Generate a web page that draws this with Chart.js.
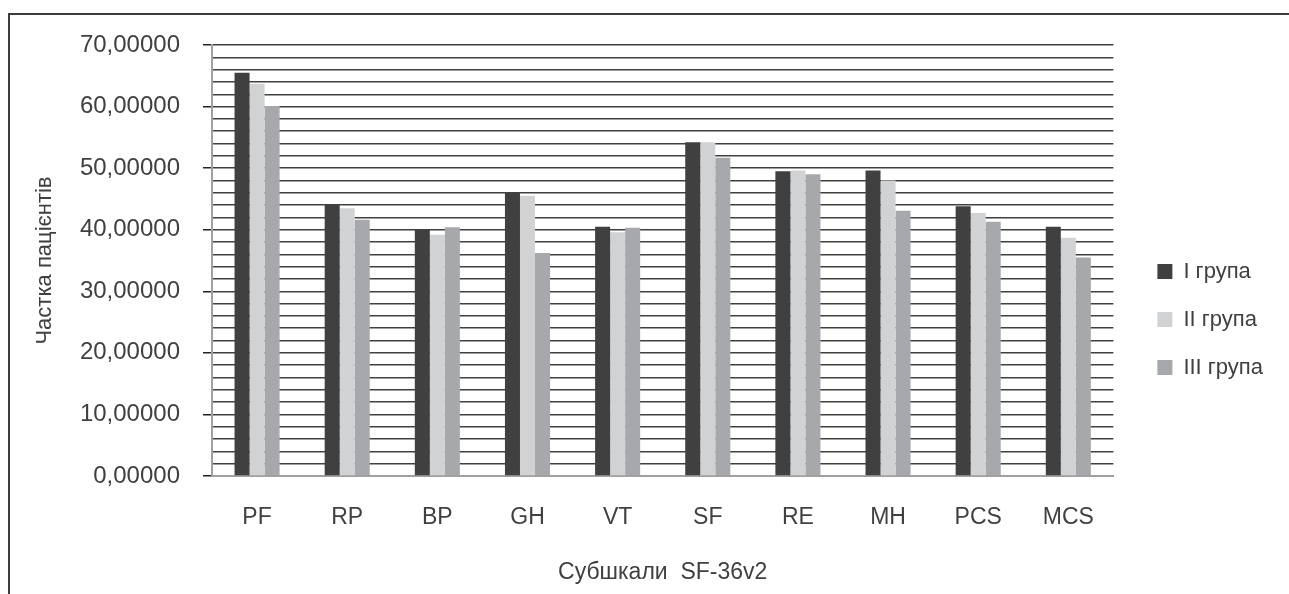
<!DOCTYPE html>
<html>
<head>
<meta charset="utf-8">
<script src="https://cdn.jsdelivr.net/npm/chart.js@4"></script>
<style>
  html, body { margin: 0; padding: 0; background: #fff; }
  #wrap { position: relative; width: 1289px; height: 594px; overflow: hidden; }
  #frame { position: absolute; left: 8px; top: 13px; width: 1400px; height: 700px;
           border-left: 2px solid #3c3c3c; border-top: 2px solid #3c3c3c; }
  #myChart { position: absolute; left: 0; top: 0; }
</style>
</head>
<body>
<div id="wrap">
  <div id="frame"></div>
  <canvas id="myChart" width="1289" height="594"></canvas>
</div>
<script>
var categories = ["PF", "RP", "BP", "GH", "VT", "SF", "RE", "MH", "PCS", "MCS"];
var seriesNames = ["I група", "II група", "III група"];
var group1 = [65.5, 44.0, 40.1, 46.1, 40.5, 54.2, 49.5, 49.6, 43.8, 40.5];
var group2 = [63.7, 43.5, 39.2, 45.5, 39.6, 54.2, 49.6, 48.0, 42.7, 38.7];
var group3 = [60.1, 41.6, 40.4, 36.2, 40.3, 51.7, 49.0, 43.1, 41.3, 35.5];
var yMin = 0, yMax = 70, yStep = 2, yLabelEvery = 10;

var textColor = "#404040";
var fontFamily = "'Liberation Sans', Arial, sans-serif";

var $chart = document.getElementById("myChart");

var chart = new Chart($chart, {
    type: "bar",
    data: {
        labels: categories,
        datasets: [
            { label: seriesNames[0], data: group1, backgroundColor: "#404040" },
            { label: seriesNames[1], data: group2, backgroundColor: "#d1d2d4" },
            { label: seriesNames[2], data: group3, backgroundColor: "#a7a8ab" },
        ],
    },
    options: {
        responsive: false,
        animation: false,
        categoryPercentage: 0.5,
        barPercentage: 1.0,
        layout: {
            padding: { top: 45, left: 0, right: 16, bottom: 0 },
        },
        plugins: {
            tooltip: { enabled: false },
            legend: {
                position: "right",
                labels: {
                    boxWidth: 15,
                    boxHeight: 15,
                    padding: 26,
                    color: textColor,
                    font: { family: fontFamily, size: 22 },
                },
            },
        },
        scales: {
            x: {
                grid: { display: false, drawTicks: false },
                border: { display: true, color: "#a0a0a0", width: 2 },
                ticks: {
                    color: textColor,
                    padding: 28,
                    font: { family: fontFamily, size: 23 },
                },
                title: {
                    display: true,
                    text: "Субшкали  SF-36v2",
                    color: textColor,
                    font: { family: fontFamily, size: 23 },
                    padding: { top: 0, bottom: 8 },
                },
                afterFit: function (scale) { scale.height = 118; },
            },
            y: {
                min: yMin,
                max: yMax,
                grid: {
                    color: "#404040",
                    lineWidth: 1.5,
                    tickLength: 9,
                    tickWidth: 1.5,
                    tickColor: function (ctx) {
                        return ctx.tick && ctx.tick.value % yLabelEvery === 0 ? "#222" : "rgba(0,0,0,0)";
                    },
                },
                border: { display: true, color: "#a0a0a0", width: 2 },
                ticks: {
                    stepSize: yStep,
                    autoSkip: false,
                    padding: 23,
                    color: textColor,
                    font: { family: fontFamily, size: 24 },
                    callback: function (v) {
                        return v % yLabelEvery === 0 ? v.toFixed(5).replace(".", ",") : "";
                    },
                },
                title: {
                    display: true,
                    text: "Частка пацієнтів",
                    color: textColor,
                    font: { family: fontFamily, size: 22 },
                    padding: { top: 32, bottom: 0 },
                },
                afterFit: function (scale) { scale.width = 212; },
            },
            gap: {
                type: "linear",
                position: "right",
                display: true,
                grid: { display: false, drawTicks: false },
                border: { display: false },
                ticks: { display: false },
                afterFit: function (scale) { scale.width = 18; },
            },
        },
    },
});
</script>
</body>
</html>
